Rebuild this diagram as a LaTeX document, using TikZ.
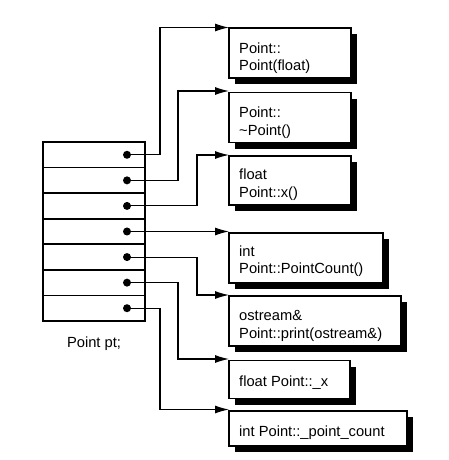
\documentclass[tikz,border=0pt]{standalone}
\usepackage{fontspec}
\setmainfont{Liberation Sans}
\usetikzlibrary{arrows.meta,shadows}
\begin{document}
\begin{tikzpicture}[x=1pt,y=-1pt,
  cell/.style={draw, line width=1.1pt, minimum width=102pt, minimum height=25.57pt, anchor=north west, inner sep=0pt, outer sep=0pt},
  sep/.style={line width=1.8pt},
  dot/.style={circle, fill=black, minimum size=8pt, inner sep=0pt},
  conn/.style={line width=1.1pt, -{Latex[length=14pt,width=8pt]}},
  fbox/.style={draw, fill=white, line width=1.2pt, anchor=north west, inner sep=0pt, outer sep=0pt,
     drop shadow={fill=black, opacity=1, shadow xshift=6pt, shadow yshift=-6pt}},
  txt/.style={anchor=base west, inner sep=0pt, font=\fontsize{14.7}{17.5}\selectfont}
]
\useasboundingbox (0,0) rectangle (449,460);
% table
\foreach \i in {1,...,7} {
  \node[cell] (r\i) at (43,{142+25.57*(\i-1)}) {};
}
\foreach \i in {1,...,6} {
  \draw[sep] (r\i.south west) -- (r\i.south east);
}
\foreach \i in {1,...,7} {
  \node[dot, xshift=-18pt] (d\i) at (r\i.east) {};
}
\node[txt, anchor=base] (lbl) at (94,347) {Point pt;};
% boxes
\node[fbox, minimum width=122pt, minimum height=50pt] (b1) at (229,28) {};
\node[fbox, minimum width=122pt, minimum height=50pt] (b2) at (229,92.5) {};
\node[fbox, minimum width=122pt, minimum height=49pt] (b3) at (229,156) {};
\node[fbox, minimum width=154pt, minimum height=50pt] (b4) at (229,233) {};
\node[fbox, minimum width=172pt, minimum height=50pt] (b5) at (229,296) {};
\node[fbox, minimum width=121pt, minimum height=38pt] (b6) at (229,360.5) {};
\node[fbox, minimum width=178pt, minimum height=35pt] (b7) at (229,411) {};
% texts
\node[txt] (t1a) at (239,53) {Point::};
\node[txt] (t1b) at (239,70.7) {Point(float)};
\node[txt] (t2a) at (239,117.5) {Point::};
\node[txt] (t2b) at (239,135) {\char`~Point()};
\node[txt] (t3a) at (239,179.5) {float};
\node[txt] (t3b) at (239,197) {Point::x()};
\node[txt] (t4a) at (239,256) {int};
\node[txt] (t4b) at (239,273.5) {Point::PointCount()};
\node[txt] (t5a) at (239,320) {ostream\&};
\node[txt] (t5b) at (239,338) {Point::print(ostream\&)};
\node[txt] (t6) at (239,386.7) {float Point::\_x};
\node[txt] (t7) at (239,436.7) {int Point::\_point\_count};
% connectors
\draw[conn] (d1.center) -- ++(33,0) |- ([yshift=0.5pt]b1.north west);
\draw[conn] (d2.center) -- ++(51,0) |- ([yshift=1.5pt]b2.north west);
\draw[conn] (d3.center) -- ++(70,0) |- ([yshift=1pt]b3.north west);
\draw[conn] (d4.center) -- (d4.center -| b4.west);
\draw[conn] (d5.center) -- ++(70,0) |- ([yshift=1pt]b5.north west);
\draw[conn] (d6.center) -- ++(51,0) |- ([yshift=1.5pt]b6.north west);
\draw[conn] (d7.center) -- ++(33,0) |- ([yshift=1.5pt]b7.north west);
\end{tikzpicture}
\end{document}
